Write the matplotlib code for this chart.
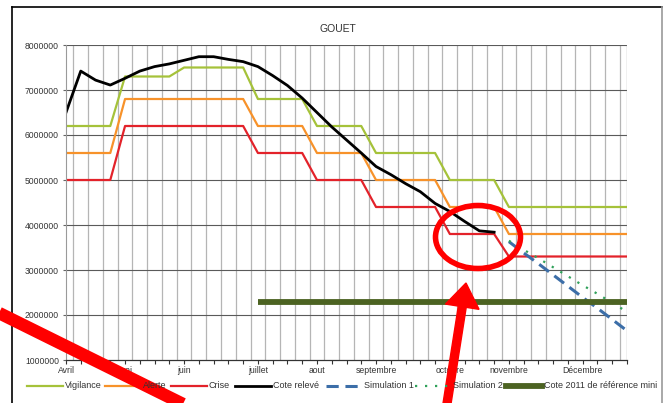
import matplotlib
matplotlib.use("Agg")
import matplotlib.pyplot as plt
from matplotlib.lines import Line2D
from matplotlib.patches import Ellipse, Polygon
import numpy as np

plt.rcParams['font.family'] = ['Liberation Sans', 'DejaVu Sans']

# weekly categories, month names shown on some weeks
month_pos = [0, 4, 8, 13, 17, 21, 26, 30, 35]
month_lbl = ["Avril", "mai", "juin", "juillet", "aout", "septembre",
             "octobre", "novembre", "Décembre"]

# values in millions (m3)
vigilance = [6.2, 6.2, 6.2, 6.2, 7.3, 7.3, 7.3, 7.3, 7.5, 7.5, 7.5, 7.5, 7.5,
             6.8, 6.8, 6.8, 6.8, 6.2, 6.2, 6.2, 6.2, 5.6, 5.6, 5.6, 5.6, 5.6,
             5.0, 5.0, 5.0, 5.0, 4.4, 4.4, 4.4, 4.4, 4.4, 4.4, 4.4, 4.4, 4.4]
alerte = [5.6, 5.6, 5.6, 5.6, 6.8, 6.8, 6.8, 6.8, 6.8, 6.8, 6.8, 6.8, 6.8,
          6.2, 6.2, 6.2, 6.2, 5.6, 5.6, 5.6, 5.6, 5.0, 5.0, 5.0, 5.0, 5.0,
          4.4, 4.4, 4.4, 4.4, 3.8, 3.8, 3.8, 3.8, 3.8, 3.8, 3.8, 3.8, 3.8]
crise = [5.0, 5.0, 5.0, 5.0, 6.2, 6.2, 6.2, 6.2, 6.2, 6.2, 6.2, 6.2, 6.2,
         5.6, 5.6, 5.6, 5.6, 5.0, 5.0, 5.0, 5.0, 4.4, 4.4, 4.4, 4.4, 4.4,
         3.8, 3.8, 3.8, 3.8, 3.3, 3.3, 3.3, 3.3, 3.3, 3.3, 3.3, 3.3, 3.3]
cote_releve = [6.50, 7.42, 7.22, 7.11, 7.26, 7.42, 7.52, 7.58, 7.66, 7.74,
               7.74, 7.68, 7.63, 7.52, 7.32, 7.10, 6.82, 6.50, 6.18, 5.89,
               5.60, 5.30, 5.12, 4.92, 4.74, 4.48, 4.30, 4.08, 3.87, 3.84]
sim1_start = 30
simulation1 = [3.63, 3.38, 3.14, 2.89, 2.64, 2.39, 2.15, 1.90, 1.65]
simulation2 = [3.65, 3.45, 3.26, 3.06, 2.86, 2.66, 2.47, 2.27, 2.07]
ref2011_start = 13
ref2011 = [2.3] * 26

W, H = 667, 403
fig = plt.figure(figsize=(W / 100, H / 100), dpi=100)


def fx(x):
    return x / W


def fy(y):
    return 1 - y / H


ax = fig.add_axes([fx(66), fy(360), fx(627) - fx(66), fy(45) - fy(360)])
ax.set_xlim(0, 38)
ax.set_ylim(1e6, 8e6)

# grid
for k in range(38):
    ax.axvline(k + 0.5, color='#b5b5b5', lw=0.9, zorder=0)
for v in range(2, 9):
    ax.axhline(v * 1e6, color='#5a5a5a', lw=0.8, zorder=0)
ax.axvline(38, color='#8a8a8a', lw=0.9, zorder=0)

M = 1e6
ax.plot(range(len(vigilance)), np.array(vigilance) * M, color='#a5c23a', lw=1.6)
ax.plot(range(len(alerte)), np.array(alerte) * M, color='#f7922a', lw=1.6)
ax.plot(range(len(crise)), np.array(crise) * M, color='#e3222a', lw=1.6)
ax.plot(range(len(cote_releve)), np.array(cote_releve) * M, color='black', lw=2.0)
ax.plot(range(sim1_start, sim1_start + len(simulation1)), np.array(simulation1) * M,
        color='#3c6ea8', lw=2.2, dashes=(4, 2.2))
ax.plot(range(sim1_start, sim1_start + len(simulation2)), np.array(simulation2) * M,
        color='#2fa15a', lw=1.6, dashes=(1, 3.5))
ax.plot(range(ref2011_start, ref2011_start + len(ref2011)), np.array(ref2011) * M,
        color='#4c6322', lw=4.2, solid_capstyle='butt')

for s in ['top', 'right']:
    ax.spines[s].set_visible(False)
ax.spines['left'].set_color('#9a9a9a')
ax.spines['bottom'].set_color('#333333')
ax.spines['bottom'].set_linewidth(0.9)

ax.set_xticks(range(39))
ax.set_xticklabels([month_lbl[month_pos.index(k)] if k in month_pos else ''
                    for k in range(39)])
ax.set_yticks(np.arange(1, 9) * M)
ax.set_yticklabels([str(v * 1000000) for v in range(1, 9)])
ax.tick_params(axis='x', length=3, width=0.8, color='#333333', pad=1.5,
               labelsize=6.2, labelcolor='#333333')
ax.tick_params(axis='y', length=2, width=0.8, color='#666666', pad=3,
               labelsize=6.2, labelcolor='#333333')

fig.text(fx(338), fy(29), "GOUET", ha='center', va='center', fontsize=7.5,
         color='#333333')

# legend drawn by hand under the axis
leg = [("Vigilance", 27, dict(color='#a5c23a', lw=1.6)),
       ("Alerte", 105, dict(color='#f7922a', lw=1.6)),
       ("Crise", 171, dict(color='#e3222a', lw=1.6)),
       ("Cote relevé", 235, dict(color='black', lw=2.0)),
       ("Simulation 1", 326, dict(color='#3c6ea8', lw=2.2, dashes=(4, 2.2))),
       ("Simulation 2", 415, dict(color='#2fa15a', lw=1.6, dashes=(1, 3.5))),
       ("Cote 2011 de référence mini", 506, dict(color='#4c6322', lw=4.2))]
for name, x0, st in leg:
    fig.add_artist(Line2D([fx(x0), fx(x0 + 36)], [fy(386), fy(386)], **st))
    fig.text(fx(x0 + 38), fy(386), name, ha='left', va='center', fontsize=6.5,
             color='#333333')

# page frame
fig.add_artist(Line2D([fx(12), fx(12)], [fy(7), 0], color='black', lw=1.2))
fig.add_artist(Line2D([fx(12), fx(662)], [fy(7), fy(7)], color='black', lw=1.2))
fig.add_artist(Line2D([fx(662), fx(662)], [fy(7), 0], color='#9a9a9a', lw=1.2))

# red annotations on top
fig.add_artist(Line2D([fx(-5), fx(185)], [fy(311), fy(405)], color='#ff0000',
                      lw=9, solid_capstyle='butt'))
fig.add_artist(Ellipse((fx(478), fy(237)), fx(85), 63 / H, fill=False,
                       edgecolor='#ff0000', lw=4, transform=fig.transFigure))
tip = np.array([466.0, 283.0])
tail = np.array([446.0, 410.0])
u = (tip - tail) / np.linalg.norm(tip - tail)
n = np.array([-u[1], u[0]])
neck = tip - u * 24
pts = [tail + n * 4, neck + n * 4, neck + n * 17, tip, neck - n * 17,
       neck - n * 4, tail - n * 4]
fig.add_artist(Polygon([(fx(p[0]), fy(p[1])) for p in pts], closed=True,
                       facecolor='#ff0000', edgecolor='#ff0000',
                       transform=fig.transFigure))

fig.savefig("out.png", dpi=100)
